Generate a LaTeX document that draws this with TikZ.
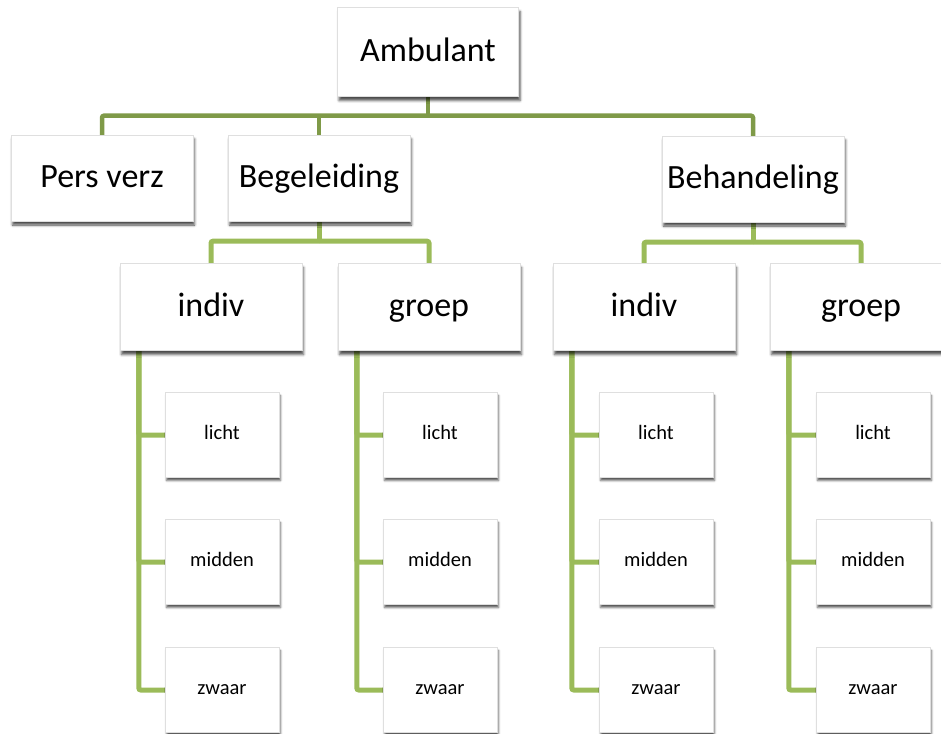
\documentclass[tikz,border=0pt]{standalone}
\usepackage{fontspec}
\setmainfont{Carlito}
\usetikzlibrary{shadows.blur,calc}
\pgfdeclarelayer{bg}
\pgfsetlayers{bg,main}
\definecolor{topline}{HTML}{7F9A48}
\definecolor{subline}{HTML}{9BBB59}
\tikzset{
  bigbox/.style={rectangle, fill=white, draw=gray!25, line width=0.4pt,
    minimum width=182pt, minimum height=87pt, inner sep=0pt,
    font=\fontsize{34}{40}\selectfont, text height=27pt, text depth=8pt,
    blur shadow={shadow xshift=1.5pt, shadow yshift=-4pt, shadow blur radius=2.5pt, shadow opacity=70}},
  smallbox/.style={rectangle, fill=white, draw=gray!25, line width=0.4pt,
    minimum width=114pt, minimum height=85pt, inner sep=0pt,
    font=\fontsize{20.5}{24}\selectfont, text height=15pt, text depth=6.4pt,
    blur shadow={shadow xshift=1.5pt, shadow yshift=-3pt, shadow blur radius=2pt, shadow opacity=65}},
  topconn/.style={draw=topline, line width=4.5pt, rounded corners=2pt},
  subconn/.style={draw=subline, line width=5pt, rounded corners=2pt},
}
\begin{document}
\begin{tikzpicture}[x=1pt,y=-1pt]
\useasboundingbox (0,0) rectangle (941,733);
% level 0 and 1
\node[bigbox, minimum width=181pt, minimum height=89pt] (amb) at (428,52) {Ambulant};
\node[bigbox, minimum height=86pt] (pv)  at (102,178) {Pers verz};
\node[bigbox, minimum height=86pt] (beg) at (319,178) {Begeleiding};
\node[bigbox, minimum height=86pt] (beh) at (753,179) {Behandeling};
% level 2
\node[bigbox] (i1) at (211,307) {indiv};
\node[bigbox] (g1) at (429,307) {groep};
\node[bigbox] (i2) at (644,307) {indiv};
\node[bigbox] (g2) at (861,307) {groep};
% level 3
\foreach \p/\x in {i1/222, g1/440, i2/656, g2/873}{
  \node[smallbox] (\p l) at (\x,435) {licht};
  \node[smallbox] (\p m) at (\x,562) {midden};
  \node[smallbox] (\p z) at (\x,690) {zwaar};
}
% connectors
\begin{pgfonlayer}{bg}
  \coordinate (j0) at ($(amb.south)+(0,19)$);
  \draw[topconn] (amb.south) -- (j0);
  \draw[topconn] (pv.north) |- (j0);
  \draw[topconn] (beg.north) -- (beg.north |- j0);
  \draw[topconn] (beh.north) |- (j0);
  \coordinate (j1) at ($(beg.south)+(0,20)$);
  \draw[subconn] (beg.south) -- (j1);
  \draw[subconn] (i1.north) |- (j1);
  \draw[subconn] (g1.north) |- (j1);
  \coordinate (j2) at ($(beh.south)+(0,20)$);
  \draw[subconn] (beh.south) -- (j2);
  \draw[subconn] (i2.north) |- (j2);
  \draw[subconn] (g2.north) |- (j2);
  \foreach \p in {i1,g1,i2,g2}{
    \coordinate (\p c) at ($(\p.south west)+(19,0)$);
    \draw[subconn] (\p c) |- (\p l.west);
    \draw[subconn] (\p c) |- (\p m.west);
    \draw[subconn] (\p c) |- (\p z.west);
  }
\end{pgfonlayer}
\end{tikzpicture}
\end{document}
